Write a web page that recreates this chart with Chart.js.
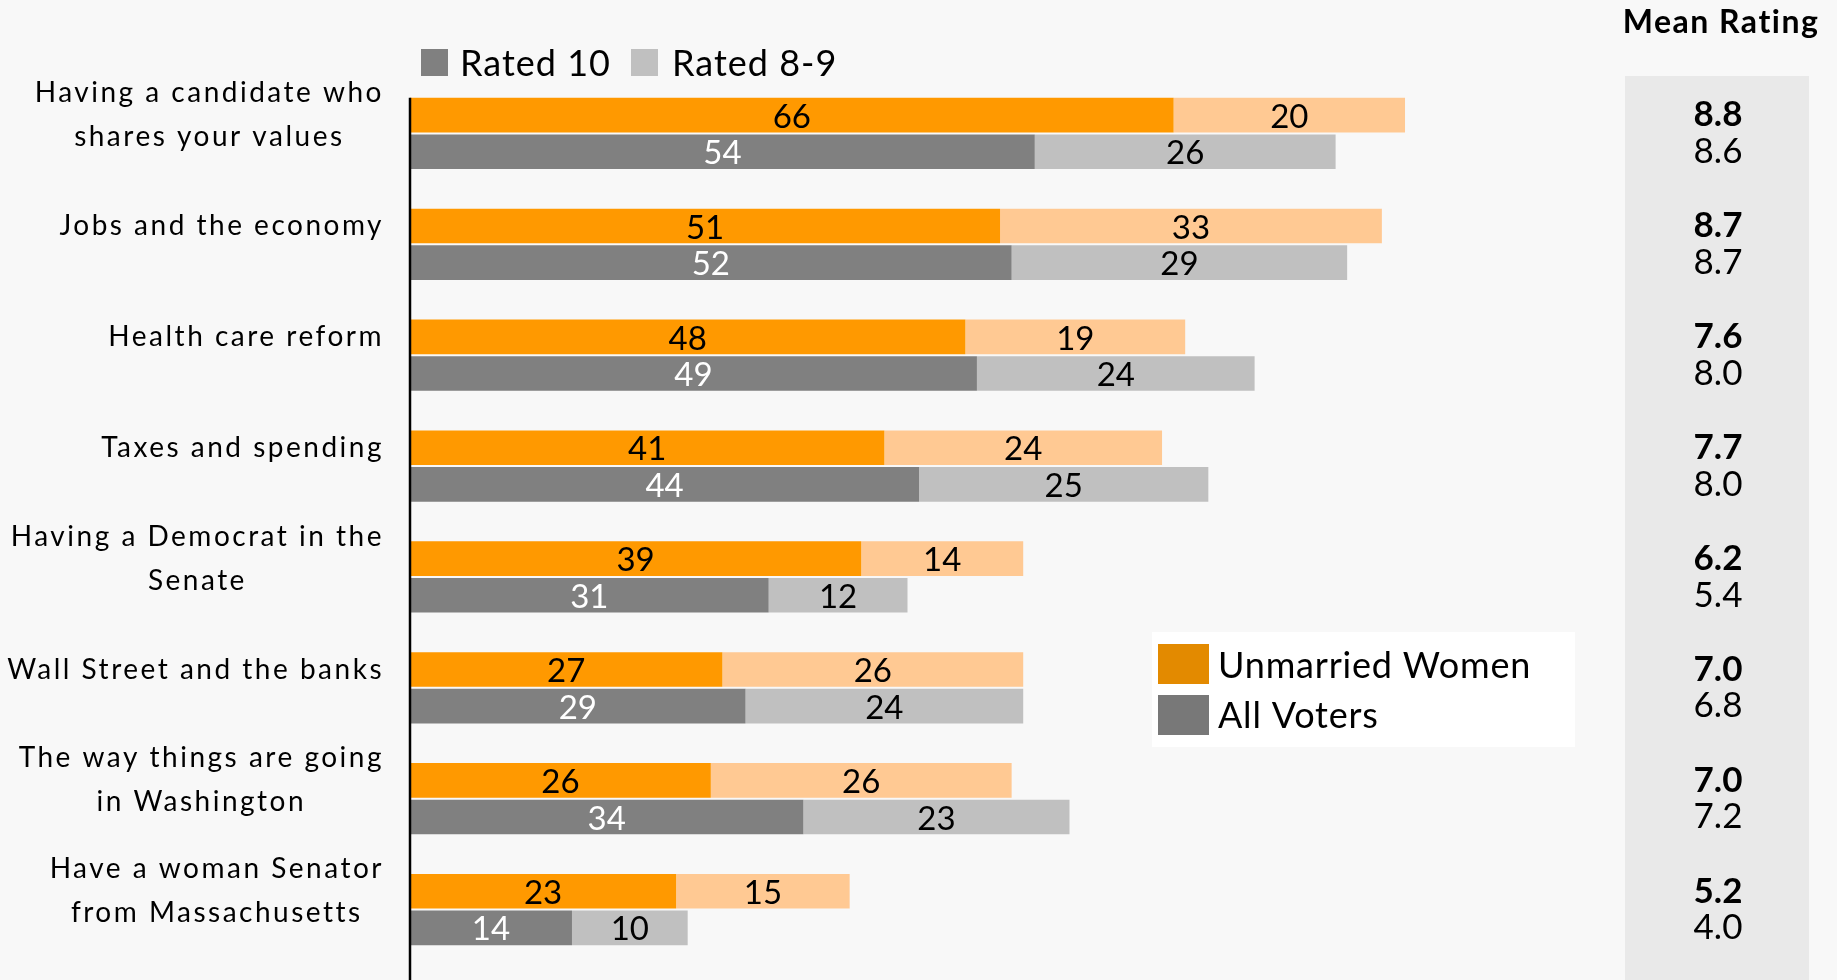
<!DOCTYPE html>
<html>
<head>
<meta charset="utf-8">
<script src="https://cdn.jsdelivr.net/npm/chart.js@4.4.1/dist/chart.umd.min.js"></script>
<style>
  html, body { margin: 0; padding: 0; background: #f8f8f8; }
  #wrap { width: 1837px; height: 980px; position: relative; }
</style>
</head>
<body>
<div id="wrap"><canvas id="ratingChart"></canvas></div>
<script>
// Data
const categories = [
    ['Having a candidate who', 'shares your values'],
    ['Jobs and the economy'],
    ['Health care reform'],
    ['Taxes and spending'],
    ['Having a Democrat in the', 'Senate'],
    ['Wall Street and the banks'],
    ['The way things are going', 'in Washington'],
    ['Have a woman Senator', 'from Massachusetts']
];
const womenRated10 = [66, 51, 48, 41, 39, 27, 26, 23];
const womenRated89 = [20, 33, 19, 24, 14, 26, 26, 15];
const votersRated10 = [54, 52, 49, 44, 31, 29, 34, 14];
const votersRated89 = [26, 29, 24, 25, 12, 24, 23, 10];
const womenMean = [8.8, 8.7, 7.6, 7.7, 6.2, 7.0, 7.0, 5.2];
const votersMean = [8.6, 8.7, 8.0, 8.0, 5.4, 6.8, 7.2, 4.0];

const FONT = 'Lato, "Open Sans", sans-serif';
const labelColors = ['#000000', '#000000', '#ffffff', '#000000'];

// draws labels, mean rating panel, legends and the axis line
const decorations = {
    id: 'decorations',
    beforeDatasetsDraw(chart) {
        const ctx = chart.ctx;
        ctx.save();
        // mean rating panel
        ctx.fillStyle = '#e9e9e9';
        ctx.fillRect(1625, 76, 184, 904);
        ctx.restore();
    },
    afterDatasetsDraw(chart) {
        const ctx = chart.ctx;
        const xScale = chart.scales.x;
        ctx.save();

        // numbers inside the bars
        ctx.textAlign = 'center';
        ctx.textBaseline = 'middle';
        ctx.letterSpacing = '0px';
        ctx.font = '33px ' + FONT;
        chart.data.datasets.forEach((ds, di) => {
            const meta = chart.getDatasetMeta(di);
            meta.data.forEach((bar, i) => {
                ctx.fillStyle = labelColors[di];
                ctx.fillText(ds.data[i], (bar.x + bar.base) / 2, bar.y + 2);
            });
        });

        // axis line
        const top = chart.getDatasetMeta(0).data[0];
        const x0 = xScale.getPixelForValue(0);
        ctx.strokeStyle = '#000';
        ctx.lineWidth = 2.5;
        ctx.beginPath();
        ctx.moveTo(x0, top.y - top.height / 2);
        ctx.lineTo(x0, chart.height);
        ctx.stroke();

        // category labels, centred on the orange bar
        ctx.font = '28px ' + FONT;
        ctx.letterSpacing = '2.5px';
        ctx.fillStyle = '#000';
        const lineGap = 44;
        categories.forEach((lines, i) => {
            const bar = chart.getDatasetMeta(0).data[i];
            const maxW = Math.max(...lines.map(l => ctx.measureText(l).width));
            const cx = 384 - maxW / 2;
            const y0 = bar.y - (lines.length - 1) * lineGap / 2;
            lines.forEach((l, k) => ctx.fillText(l, cx, y0 + k * lineGap));
        });

        // mean rating column
        ctx.font = 'bold 32px ' + FONT;
        ctx.letterSpacing = '1.5px';
        ctx.fillText('Mean Rating', 1721, 23);
        ctx.letterSpacing = '0px';
        womenMean.forEach((v, i) => {
            const b1 = chart.getDatasetMeta(0).data[i];
            const b2 = chart.getDatasetMeta(2).data[i];
            ctx.font = 'bold 35px ' + FONT;
            ctx.fillText(v.toFixed(1), 1718, b1.y);
            ctx.font = '35px ' + FONT;
            ctx.fillText(votersMean[i].toFixed(1), 1718, b2.y);
        });

        // top legend
        ctx.textAlign = 'left';
        ctx.font = '36px ' + FONT;
        ctx.letterSpacing = '1px';
        ctx.fillStyle = '#808080';
        ctx.fillRect(421, 49, 27, 27);
        ctx.fillStyle = '#c0c0c0';
        ctx.fillRect(631, 49, 27, 27);
        ctx.fillStyle = '#000';
        ctx.fillText('Rated 10', 460, 64);
        ctx.fillText('Rated 8-9', 672, 64);

        // group legend
        ctx.fillStyle = '#ffffff';
        ctx.fillRect(1152, 632, 423, 115);
        ctx.fillStyle = '#e38a00';
        ctx.fillRect(1158, 644, 51, 40);
        ctx.fillStyle = '#787878';
        ctx.fillRect(1158, 695, 51, 40);
        ctx.fillStyle = '#000';
        ctx.letterSpacing = '0.8px';
        ctx.fillText('Unmarried Women', 1218, 666);
        ctx.fillText('All Voters', 1218, 716);

        ctx.restore();
    }
};

const ctx = document.getElementById('ratingChart').getContext('2d');
new Chart(ctx, {
    type: 'bar',
    data: {
        labels: categories,
        datasets: [
            { label: 'Unmarried Women - Rated 10', data: womenRated10, backgroundColor: '#ff9900', stack: 'women' },
            { label: 'Unmarried Women - Rated 8-9', data: womenRated89, backgroundColor: '#ffc993', stack: 'women' },
            { label: 'All Voters - Rated 10', data: votersRated10, backgroundColor: '#808080', stack: 'voters' },
            { label: 'All Voters - Rated 8-9', data: votersRated89, backgroundColor: '#c0c0c0', stack: 'voters' }
        ]
    },
    options: {
        indexAxis: 'y',
        responsive: true,
        maintainAspectRatio: false,
        animation: false,
        categoryPercentage: 0.66,
        barPercentage: 0.945,
        layout: { padding: { left: 410, right: 270, top: 78, bottom: 15 } },
        scales: {
            x: { display: false, stacked: true, min: 0, max: 100 },
            y: { display: false, stacked: true }
        },
        plugins: {
            legend: { display: false },
            tooltip: { enabled: false }
        }
    },
    plugins: [decorations]
});
</script>
</body>
</html>
